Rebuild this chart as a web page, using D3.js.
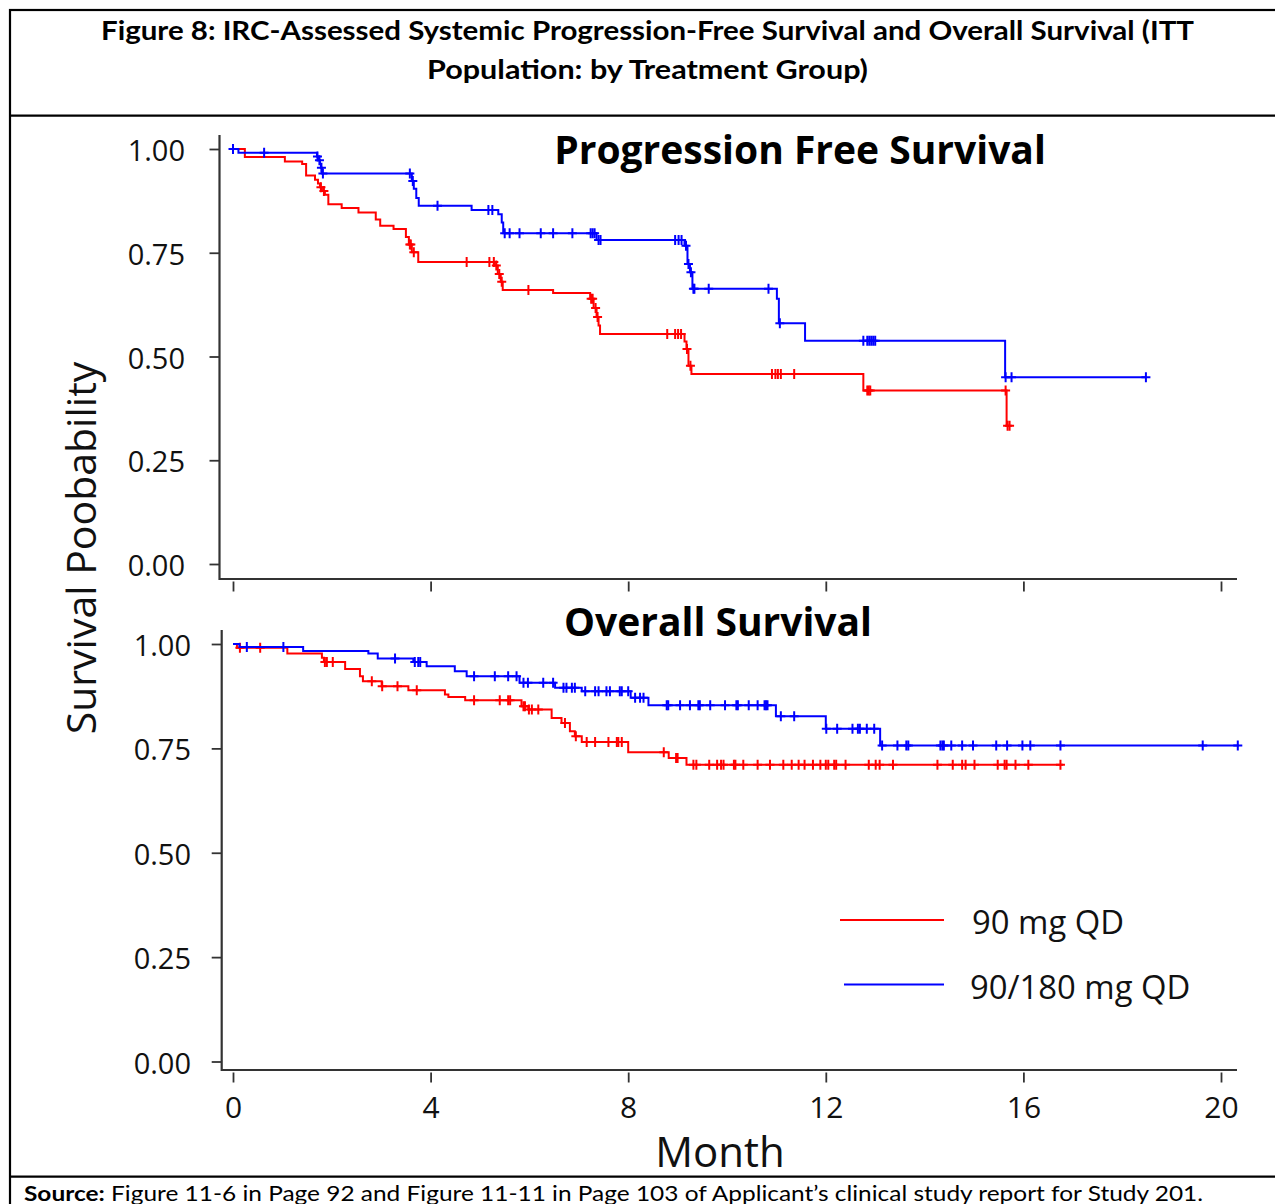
<!DOCTYPE html>
<html>
<head>
<meta charset="utf-8">
<script src="https://cdn.jsdelivr.net/npm/d3@7"></script>
<style>
  body { margin: 0; background: #fff; }
  svg { display: block; }
</style>
</head>
<body>
<svg id="chart" width="1275" height="1204"></svg>
<script>
// ---- Series and axis definitions ----
const seriesNames = ["90 mg QD", "90/180 mg QD"];
const seriesColors = ["#ff0000", "#0000ff"];
const monthTicks = [0, 4, 8, 12, 16, 20];
const probTicks = [0, 0.25, 0.5, 0.75, 1];
const probTickLabels = ["0.00", "0.25", "0.50", "0.75", "1.00"];

// ---- Progression-free survival, 90 mg QD: [month, survival] at each event ----
const pfs90Steps = [
  [0.24, 0.981], [1.05, 0.970], [1.40, 0.964], [1.48, 0.936], [1.66, 0.926],
  [1.72, 0.917], [1.76, 0.908], [1.80, 0.899], [1.86, 0.890], [1.93, 0.867],
  [2.20, 0.858], [2.54, 0.847], [2.89, 0.830], [2.98, 0.815], [3.25, 0.807],
  [3.50, 0.788], [3.56, 0.770], [3.62, 0.751], [3.75, 0.728], [5.30, 0.719],
  [5.36, 0.699], [5.42, 0.680], [5.46, 0.660], [6.48, 0.653], [7.23, 0.639],
  [7.30, 0.617], [7.36, 0.595], [7.40, 0.575], [7.43, 0.554], [9.14, 0.536],
  [9.18, 0.518], [9.22, 0.478], [9.28, 0.458], [12.76, 0.418], [15.66, 0.333]
];
const pfs90Censors = [
  1.78, 1.84, 3.58, 3.60, 3.66, 4.73, 5.19, 5.28, 5.33, 5.39, 5.44, 5.98,
  7.25, 7.28, 7.34, 7.38, 8.79, 8.95, 9.01, 9.07, 9.19, 9.26, 10.91, 10.98,
  11.03, 11.09, 11.36, 12.84, 12.87, 12.90, 15.64, 15.68, 15.72
];
const pfs90LastMonth = 15.72;

// ---- Progression-free survival, 90/180 mg QD ----
const pfs180Steps = [
  [0.11, 0.991], [1.70, 0.982], [1.73, 0.973], [1.76, 0.964], [1.78, 0.955],
  [1.80, 0.941], [3.62, 0.923], [3.66, 0.904], [3.71, 0.882], [3.76, 0.863],
  [4.83, 0.853], [5.37, 0.843], [5.44, 0.823], [5.47, 0.797], [7.36, 0.781],
  [9.14, 0.767], [9.20, 0.723], [9.25, 0.703], [9.30, 0.663], [11.01, 0.639],
  [11.05, 0.580], [11.58, 0.538], [15.63, 0.450]
];
const pfs180Censors = [
  0.00, 0.63, 1.71, 1.75, 1.79, 1.82, 3.58, 3.64, 4.14, 5.17, 5.25, 5.50,
  5.60, 5.80, 6.23, 6.48, 6.87, 7.24, 7.28, 7.32, 7.40, 7.44, 8.95, 9.02,
  9.08, 9.17, 9.22, 9.27, 9.32, 9.34, 9.63, 10.84, 11.07, 12.76, 12.84, 12.88,
  12.92, 12.96, 13.00, 15.64, 15.76, 18.48
];
const pfs180LastMonth = 18.48;

// ---- Overall survival, 90 mg QD ----
const os90Steps = [
  [0.08, 0.991], [1.10, 0.977], [1.80, 0.967], [1.84, 0.957], [2.27, 0.940],
  [2.57, 0.923], [2.63, 0.911], [3.01, 0.899], [3.55, 0.889], [4.29, 0.879],
  [4.36, 0.873], [4.70, 0.865], [5.84, 0.851], [5.98, 0.843], [6.45, 0.823],
  [6.65, 0.811], [6.82, 0.791], [6.92, 0.779], [7.06, 0.765], [8.00, 0.741],
  [8.82, 0.727], [9.18, 0.711]
];
const os90Censors = [
  0.14, 0.55, 1.86, 1.90, 2.02, 2.81, 3.02, 3.33, 3.72, 4.88, 5.40, 5.57,
  5.61, 5.88, 5.91, 5.99, 6.05, 6.18, 6.72, 6.94, 7.16, 7.33, 7.60, 7.77,
  7.80, 7.87, 8.72, 8.97, 9.00, 9.32, 9.38, 9.64, 9.80, 9.88, 9.93, 10.14,
  10.17, 10.33, 10.62, 10.87, 11.14, 11.31, 11.45, 11.57, 11.74, 11.89, 12.00,
  12.05, 12.17, 12.21, 12.40, 12.87, 13.01, 13.09, 13.36, 14.26, 14.57, 14.76,
  14.83, 15.01, 15.48, 15.62, 15.66, 15.84, 16.10, 16.75
];
const os90LastMonth = 16.80;

// ---- Overall survival, 90/180 mg QD ----
const os180Steps = [
  [0.13, 0.993], [1.42, 0.983], [2.74, 0.977], [2.93, 0.965], [3.65, 0.957],
  [3.92, 0.947], [4.49, 0.935], [4.73, 0.923], [5.80, 0.907], [6.52, 0.895],
  [7.06, 0.887], [8.05, 0.871], [8.41, 0.853], [10.99, 0.827], [12.00, 0.797],
  [13.10, 0.757]
];
const os180Censors = [
  0.28, 1.02, 3.28, 3.68, 3.75, 3.79, 4.88, 5.30, 5.57, 5.74, 5.88, 5.97,
  6.28, 6.48, 6.69, 6.75, 6.86, 6.92, 7.13, 7.33, 7.40, 7.56, 7.63, 7.83,
  7.87, 8.00, 8.14, 8.24, 8.31, 8.78, 8.81, 9.05, 9.25, 9.42, 9.45, 9.66,
  9.96, 10.19, 10.22, 10.44, 10.62, 10.76, 10.79, 10.82, 11.09, 11.36, 12.01,
  12.23, 12.54, 12.65, 12.69, 12.83, 12.98, 13.14, 13.45, 13.63, 13.67, 14.32,
  14.36, 14.39, 14.54, 14.76, 14.98, 15.45, 15.67, 15.98, 16.14, 16.75, 19.63,
  20.34
];
const os180LastMonth = 20.36;

// ---- Drawing ----
const svg = d3.select("#chart");
const INK = "#111";
const AXIS = "#333";

// Page frame
svg.append("rect").attr("x", 10).attr("y", 10).attr("width", 1300).attr("height", 1300)
  .attr("fill", "none").attr("stroke", "#000").attr("stroke-width", 2.2);
svg.append("line").attr("x1", 10).attr("x2", 1275).attr("y1", 115.7).attr("y2", 115.7)
  .attr("stroke", "#000").attr("stroke-width", 2.2);
svg.append("line").attr("x1", 10).attr("x2", 1275).attr("y1", 1176.7).attr("y2", 1176.7)
  .attr("stroke", "#000").attr("stroke-width", 2.2);

// Figure heading
const heading = svg.append("g").attr("font-family", "Lato, 'Open Sans', sans-serif")
  .attr("font-weight", 700).attr("font-size", 27).attr("fill", "#000");
heading.append("text").attr("x", 647.5).attr("y", 40).attr("text-anchor", "middle")
  .attr("textLength", 1093).attr("lengthAdjust", "spacingAndGlyphs")
  .text("Figure 8: IRC-Assessed Systemic Progression-Free Survival and Overall Survival (ITT");
heading.append("text").attr("x", 647.5).attr("y", 79).attr("text-anchor", "middle")
  .attr("textLength", 441).attr("lengthAdjust", "spacingAndGlyphs")
  .text("Population: by Treatment Group)");

// Source footnote
const src = svg.append("text").attr("x", 24).attr("y", 1201)
  .attr("font-family", "Lato, 'Open Sans', sans-serif").attr("font-size", 21).attr("fill", "#000")
  .attr("textLength", 1179).attr("lengthAdjust", "spacingAndGlyphs");
src.append("tspan").attr("font-weight", 700).text("Source:");
src.append("tspan").text(" Figure 11-6 in Page 92 and Figure 11-11 in Page 103 of Applicant\u2019s clinical study report for Study 201.");

const x = d3.scaleLinear().domain([0, 20]).range([233, 1221]);

function survAt(steps, t) {
  let s = 1;
  for (const [et, es] of steps) { if (et <= t) s = es; else break; }
  return s;
}

function drawPanel(opts) {
  const { y, axisX, axisTop, axisBottom, labelRight, title, titleX, titleY, curves, showMonthLabels } = opts;
  const g = svg.append("g");

  // y axis ticks + labels
  const yAxis = d3.axisLeft(y).tickValues(probTicks)
    .tickFormat((d, i) => probTickLabels[i]).tickSize(10).tickPadding(axisX - 10 - labelRight);
  const ya = g.append("g").attr("transform", `translate(${axisX},0)`).call(yAxis);
  ya.select(".domain").remove();
  ya.selectAll("line").attr("stroke", AXIS).attr("stroke-width", 1.8);
  ya.selectAll("text").attr("font-family", "'Open Sans', sans-serif").attr("font-size", 29)
    .attr("fill", INK).attr("dy", "0.4em");

  // x axis ticks (+ labels on the lower panel)
  const xAxis = d3.axisBottom(x).tickValues(monthTicks).tickSize(10).tickPadding(14)
    .tickFormat(showMonthLabels ? d3.format("d") : () => "");
  const xa = g.append("g").attr("transform", `translate(0,${axisBottom + 2.5})`).call(xAxis);
  xa.select(".domain").remove();
  xa.selectAll("line").attr("stroke", AXIS).attr("stroke-width", 1.8);
  xa.selectAll("text").attr("font-family", "'Open Sans', sans-serif").attr("font-size", 30)
    .attr("fill", INK);

  // axis lines
  g.append("line").attr("x1", axisX).attr("x2", axisX).attr("y1", axisTop).attr("y2", axisBottom + 1)
    .attr("stroke", AXIS).attr("stroke-width", 2.2);
  g.append("line").attr("x1", axisX).attr("x2", 1237).attr("y1", axisBottom).attr("y2", axisBottom)
    .attr("stroke", AXIS).attr("stroke-width", 2.2);

  // panel title
  g.append("text").attr("x", titleX).attr("y", titleY).attr("text-anchor", "middle")
    .attr("font-family", "'Open Sans', sans-serif").attr("font-weight", 700)
    .attr("font-size", 39).attr("fill", "#000").text(title);

  // Kaplan-Meier curves
  const line = d3.line().x(d => x(d[0])).y(d => y(d[1])).curve(d3.curveStepAfter);
  curves.forEach(c => {
    const pts = [[0, 1], ...c.steps, [c.last, survAt(c.steps, c.last)]];
    g.append("path").attr("d", line(pts)).attr("fill", "none")
      .attr("stroke", c.color).attr("stroke-width", 2);
    g.append("g").selectAll("path").data(c.censors).join("path")
      .attr("transform", d => `translate(${x(d)},${y(survAt(c.steps, d))})`)
      .attr("d", "M-4.5,0H4.5M0,-5V5")
      .attr("stroke", c.color).attr("stroke-width", 2).attr("fill", "none");
  });
  return g;
}

const yPfs = d3.scaleLinear().domain([0, 1]).range([564, 149]);
const yOs = d3.scaleLinear().domain([0, 1]).range([1061.5, 644]);

drawPanel({
  y: yPfs, axisX: 219.5, axisTop: 135, axisBottom: 579, labelRight: 185,
  title: "Progression Free Survival", titleX: 800, titleY: 164, showMonthLabels: false,
  curves: [
    { steps: pfs90Steps, censors: pfs90Censors, last: pfs90LastMonth, color: seriesColors[0] },
    { steps: pfs180Steps, censors: pfs180Censors, last: pfs180LastMonth, color: seriesColors[1] }
  ]
});

drawPanel({
  y: yOs, axisX: 221.7, axisTop: 630, axisBottom: 1070, labelRight: 191,
  title: "Overall Survival", titleX: 718, titleY: 636, showMonthLabels: true,
  curves: [
    { steps: os90Steps, censors: os90Censors, last: os90LastMonth, color: seriesColors[0] },
    { steps: os180Steps, censors: os180Censors, last: os180LastMonth, color: seriesColors[1] }
  ]
});

// Shared axis titles
svg.append("text").attr("transform", "translate(96,548) rotate(-90)").attr("text-anchor", "middle")
  .attr("font-family", "'Open Sans', sans-serif").attr("font-size", 41).attr("fill", INK)
  .text("Survival Poobability");
svg.append("text").attr("x", 720).attr("y", 1167).attr("text-anchor", "middle")
  .attr("font-family", "'Open Sans', sans-serif").attr("font-size", 42).attr("fill", INK)
  .text("Month");

// Legend
const legend = svg.append("g").selectAll("g").data(seriesNames).join("g");
const legendRows = [{ y: 920, x1: 840, tx: 972 }, { y: 984.5, x1: 844, tx: 970 }];
legend.append("line")
  .attr("x1", (d, i) => legendRows[i].x1).attr("x2", 944)
  .attr("y1", (d, i) => legendRows[i].y).attr("y2", (d, i) => legendRows[i].y)
  .attr("stroke", (d, i) => seriesColors[i]).attr("stroke-width", 2);
legend.append("text")
  .attr("x", (d, i) => legendRows[i].tx).attr("y", (d, i) => legendRows[i].y + 14)
  .attr("font-family", "'Open Sans', sans-serif").attr("font-size", 32.8).attr("fill", INK)
  .text(d => d);
</script>
</body>
</html>
